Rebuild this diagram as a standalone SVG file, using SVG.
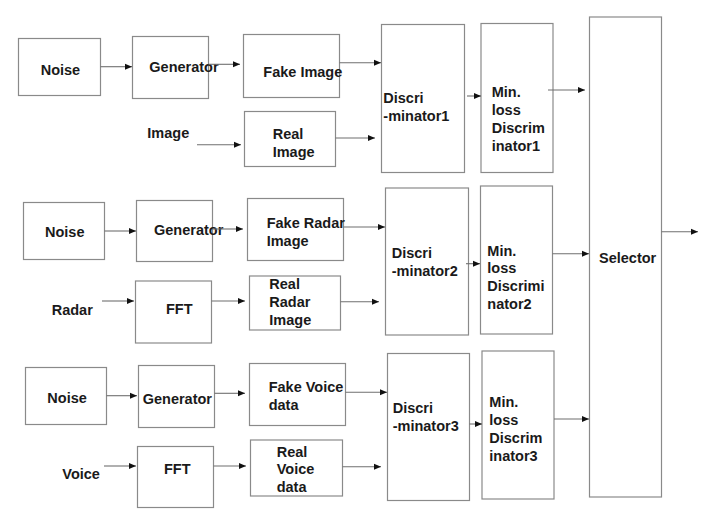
<svg xmlns="http://www.w3.org/2000/svg" width="720" height="525" viewBox="0 0 720 525">
<defs>
<marker id="ah" markerUnits="userSpaceOnUse" markerWidth="8" markerHeight="7" refX="7" refY="3.5" orient="auto">
<path d="M0,0.5 L7,3.5 L0,6.5 Z" fill="#111"/>
</marker>
</defs>
<style>
rect{fill:#fff;stroke:#8a8a8a;stroke-width:1.2}
text{font-family:"Liberation Sans","Noto Sans",sans-serif;font-weight:700;font-size:14.5px;fill:#1a1a1a}
#connectors line{stroke:#6f6f6f;stroke-width:1.1;marker-end:url(#ah)}
</style>
<rect x="0" y="0" width="720" height="525" style="stroke:none"/>
<g id="noise1"><rect x="18.5" y="38.5" width="82" height="57"/><text x="40.7" y="75">Noise</text></g>
<g id="generator1"><rect x="132.5" y="36.5" width="76" height="62"/><text x="149.3" y="72.3">Generator</text></g>
<g id="fakeimage"><rect x="243.5" y="34.5" width="96" height="63"/><text x="263.3" y="76.7">Fake Image</text></g>
<g id="image"><text x="147.3" y="137.7">Image</text></g>
<g id="realimage"><rect x="244.5" y="111.5" width="91" height="55"/><text x="272.7" y="139">Real</text><text x="272.7" y="156.7">Image</text></g>
<g id="disc1"><rect x="381.5" y="24.5" width="83" height="148"/><text x="383.3" y="102.7">Discri</text><text x="383.3" y="121">-minator1</text></g>
<g id="minloss1"><rect x="481" y="23.5" width="72" height="149"/><text x="491.7" y="97.3">Min.</text><text x="491.7" y="115">loss</text><text x="491.7" y="133.3">Discrim</text><text x="491.7" y="150.7">inator1</text></g>
<g id="noise2"><rect x="23.5" y="202.5" width="81" height="57"/><text x="45" y="237.3">Noise</text></g>
<g id="generator2"><rect x="136.5" y="200.5" width="76" height="61"/><text x="154" y="235.3">Generator</text></g>
<g id="fakeradar"><rect x="247.5" y="198.5" width="96" height="62"/><text x="266.7" y="227.7">Fake Radar</text><text x="266.7" y="245.7">Image</text></g>
<g id="radar"><text x="51.7" y="315">Radar</text></g>
<g id="fft2"><rect x="135.5" y="281" width="76" height="62"/><text x="166" y="314">FFT</text></g>
<g id="realradar"><rect x="249.5" y="276" width="91" height="54"/><text x="269.3" y="289">Real</text><text x="269.3" y="307">Radar</text><text x="269.3" y="325">Image</text></g>
<g id="disc2"><rect x="385.5" y="188" width="83" height="147"/><text x="391.7" y="257.7">Discri</text><text x="391.7" y="276">-minator2</text></g>
<g id="minloss2"><rect x="480.5" y="186" width="72" height="148"/><text x="487.3" y="256">Min.</text><text x="487.3" y="273.3">loss</text><text x="487.3" y="291">Discrimi</text><text x="487.3" y="309.3">nator2</text></g>
<g id="noise3"><rect x="25.5" y="367.5" width="81" height="57"/><text x="47.3" y="403.3">Noise</text></g>
<g id="generator3"><rect x="138.5" y="365.5" width="76" height="62"/><text x="142.7" y="404.3">Generator</text></g>
<g id="fakevoice"><rect x="249.5" y="363.5" width="96" height="62"/><text x="268.7" y="392.3">Fake Voice</text><text x="268.7" y="410">data</text></g>
<g id="voice"><text x="62.3" y="479.3">Voice</text></g>
<g id="fft3"><rect x="137.5" y="446.5" width="76" height="61"/><text x="164" y="474">FFT</text></g>
<g id="realvoice"><rect x="250.5" y="440" width="92" height="56"/><text x="276.7" y="456.7">Real</text><text x="276.7" y="474.3">Voice</text><text x="276.7" y="492">data</text></g>
<g id="disc3"><rect x="387.5" y="353.5" width="82" height="147"/><text x="392.7" y="413.3">Discri</text><text x="392.7" y="431">-minator3</text></g>
<g id="minloss3"><rect x="482" y="351" width="72" height="148"/><text x="489.3" y="407.3">Min.</text><text x="489.3" y="425">loss</text><text x="489.3" y="443.3">Discrim</text><text x="489.3" y="461">inator3</text></g>
<g id="selector"><rect x="589.5" y="17" width="72" height="480"/><text x="599" y="262.7">Selector</text></g>
<g id="connectors">
<line x1="100.5" y1="66.7" x2="132" y2="66.7"/>
<line x1="208.5" y1="64.3" x2="240" y2="64.3"/>
<line x1="339.5" y1="62.7" x2="381" y2="62.7"/>
<line x1="197" y1="144.7" x2="241" y2="144.7"/>
<line x1="335.5" y1="138" x2="375" y2="138"/>
<line x1="467" y1="96" x2="481" y2="96"/>
<line x1="548" y1="90" x2="585" y2="90"/>
<line x1="104.5" y1="231" x2="136" y2="231"/>
<line x1="212.5" y1="229" x2="243" y2="229"/>
<line x1="343.5" y1="227" x2="385" y2="227"/>
<line x1="102" y1="301" x2="134" y2="301"/>
<line x1="211.5" y1="301" x2="245" y2="301"/>
<line x1="340.5" y1="301.7" x2="379" y2="301.7"/>
<line x1="466" y1="263.7" x2="480" y2="263.7"/>
<line x1="552.5" y1="253.7" x2="589" y2="253.7"/>
<line x1="661.5" y1="231.7" x2="698" y2="231.7"/>
<line x1="106.5" y1="395.7" x2="137" y2="395.7"/>
<line x1="214.5" y1="393.3" x2="245" y2="393.3"/>
<line x1="345.5" y1="392.3" x2="387" y2="392.3"/>
<line x1="104" y1="466" x2="136" y2="466"/>
<line x1="213.5" y1="466" x2="246" y2="466"/>
<line x1="342.5" y1="466.7" x2="381" y2="466.7"/>
<line x1="469.5" y1="424" x2="482" y2="424"/>
<line x1="554" y1="419" x2="589" y2="419"/>
</g>
</svg>
